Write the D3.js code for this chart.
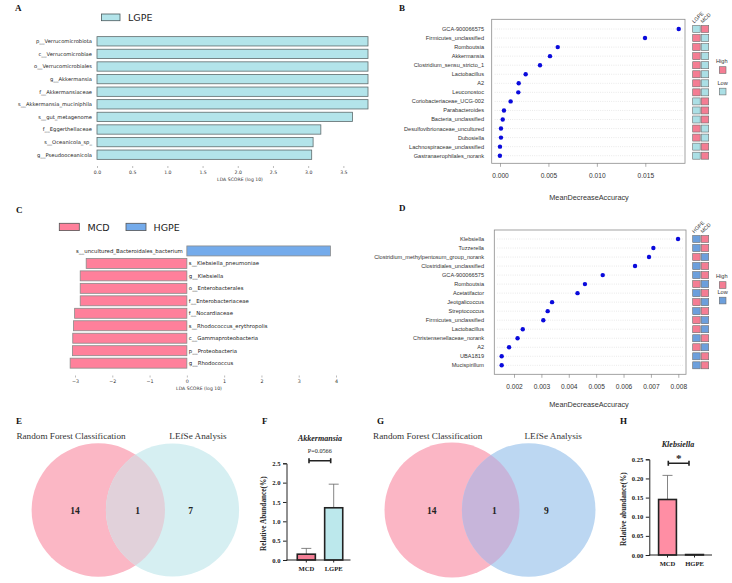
<!DOCTYPE html>
<html><head><meta charset="utf-8">
<script src="https://cdn.jsdelivr.net/npm/d3@7"></script>
<style>body{margin:0;background:#fff}svg{display:block}</style>
</head><body><svg id="c" width="732" height="583"></svg>
<script>
// ---------- DATA ----------
const aLabels = ["p__Verrucomicrobiota","c__Verrucomicrobiae","o__Verrucomicrobiales","g__Akkermansia","f__Akkermansiaceae","s__Akkermansia_muciniphila","s__gut_metagenome","f__Eggerthellaceae","s__Oceanicola_sp_","g__Pseudooceanicola"];
const aValues = [3.85,3.85,3.85,3.85,3.85,3.85,3.63,3.18,3.07,3.05];
const aTicks = [0,0.5,1,1.5,2,2.5,3,3.5];

const cLabels = ["s__uncultured_Bacteroidales_bacterium","s__Klebsiella_pneumoniae","g__Klebsiella","o__Enterobacterales","f__Enterobacteriaceae","f__Nocardiaceae","s__Rhodococcus_erythropolis","c__Gammaproteobacteria","p__Proteobacteria","g__Rhodococcus"];
const cValues = [3.85,-2.70,-2.86,-2.86,-2.86,-3.01,-3.04,-3.06,-3.07,-3.13];
const cTicks = [-3,-2,-1,0,1,2,3,4];

const bLabels = ["GCA-900066575","Firmicutes_unclassified","Romboutsia","Akkermansia","Clostridium_sensu_stricto_1","Lactobacillus","A2","Leuconostoc","Coriobacteriaceae_UCG-002","Parabacteroides","Bacteria_unclassified","Desulfovibrionaceae_uncultured","Dubosiella","Lachnospiraceae_unclassified","Gastranaerophilales_norank"];
const bValues = [0.01845,0.01497,0.00596,0.00516,0.00413,0.00265,0.00193,0.00189,0.00110,0.00041,0.00028,0.00010,0.00010,0.00000,-0.00001];
const bGroups = ["LGPE","MCD"];
const bHigh = ["MCD","LGPE","LGPE","LGPE","LGPE","LGPE","LGPE","LGPE","MCD","MCD","MCD","LGPE","LGPE","MCD","MCD"];
const bTicks = [0,0.005,0.010,0.015];

const dLabels = ["Klebsiella","Tuzzerella","Clostridium_methylpentosum_group_norank","Clostridiales_unclassified","GCA-900066575","Romboutsia","Acetatifactor","Jeotgalicoccus","Streptococcus","Firmicutes_unclassified","Lactobacillus","Christensenellaceae_norank","A2","UBA1819","Mucispirillum"];
const dValues = [0.00799,0.00709,0.00693,0.00642,0.00524,0.00459,0.00432,0.00339,0.00323,0.00307,0.00232,0.00213,0.00182,0.00155,0.00155];
const dGroups = ["HGPE","MCD"];
const dHigh = ["MCD","MCD","HGPE","MCD","MCD","HGPE","MCD","HGPE","MCD","HGPE","HGPE","MCD","HGPE","MCD","MCD"];
const dTicks = [0.002,0.003,0.004,0.005,0.006,0.007,0.008];

const vennSets = ["Random Forest Classification","LEfSe Analysis"];
const eCounts = [14,1,7];
const gCounts = [14,1,9];

const fGroups = ["MCD","LGPE"];
const fMeans = [0.15,1.35];
const fErr = [0.15,0.61];
const fTicks = [0,0.5,1.0,1.5,2.0,2.5];
const fP = "P=0.0566";

const hGroups = ["MCD","HGPE"];
const hMeans = [0.145,0.0012];
const hErr = [0.063,0];
const hTicks = [0,0.05,0.10,0.15,0.20,0.25];

// ---------- STYLE ----------
const SANS = "'Liberation Sans', Arial, sans-serif";
const DEJA = "'DejaVu Sans', sans-serif";
const SERIF = "'Liberation Serif', 'Times New Roman', serif";
const PINK = "#f47d93", CYAN = "#abdfe5", BLUE = "#6c9fdc";

const svg = d3.select("#c");
svg.append("rect").attr("width",732).attr("height",583).attr("fill","#fff");

function letter(t,x,y){
  svg.append("text").attr("x",x).attr("y",y).text(t)
    .attr("font-family",SERIF).attr("font-weight","bold").attr("font-size",9).attr("fill","#111");
}
letter("A",15,11); letter("B",399,11); letter("C",16,213); letter("D",399,211);
letter("E",16,424); letter("F",262,424); letter("G",377,424); letter("H",620,424);

// ---------- PANEL A ----------
{
  const g = svg.append("g");
  const x = d3.scaleLinear().domain([0,3.85]).range([97,368]);
  const y = d3.scaleBand().domain(aLabels).range([35,161]).paddingInner(0.26).paddingOuter(0.13);
  g.selectAll("rect.bar").data(aLabels).join("rect").attr("class","bar")
    .attr("x",x(0)).attr("y",d=>y(d)).attr("height",y.bandwidth())
    .attr("width",(d,i)=>x(aValues[i])-x(0))
    .attr("fill","#b3e4ea").attr("stroke","#5f6b6d").attr("stroke-width",0.8);
  g.selectAll("text.lab").data(aLabels).join("text").attr("class","lab")
    .attr("x",92).attr("y",d=>y(d)+y.bandwidth()/2).attr("dy","0.35em")
    .attr("text-anchor","end").attr("font-family",DEJA).attr("font-size",5.2).attr("fill","#222").text(d=>d);
  const ax = g.append("g").attr("transform","translate(0,166)")
    .call(d3.axisBottom(x).tickValues(aTicks).tickFormat(d3.format(".1f")).tickSize(2).tickPadding(2.5));
  ax.select(".domain").remove();
  ax.selectAll("line").attr("stroke","#777").attr("stroke-width",0.5);
  ax.selectAll("text").attr("font-family",DEJA).attr("font-size",4.6).attr("fill","#333");
  g.append("text").attr("x",240).attr("y",180.5).attr("text-anchor","middle")
    .attr("font-family",DEJA).attr("font-size",4.6).attr("fill","#333").text("LDA SCORE (log 10)");
  // legend
  g.append("rect").attr("x",101.5).attr("y",14).attr("width",18.5).attr("height",6.7)
    .attr("fill","#b3e4ea").attr("stroke","#4a5a5d").attr("stroke-width",0.8);
  g.append("text").attr("x",128).attr("y",21.2).attr("font-family",DEJA).attr("font-size",9.5).attr("fill","#222").text("LGPE");
}

// ---------- PANEL C ----------
{
  const g = svg.append("g");
  const x = d3.scaleLinear().domain([-3,4]).range([75,336]);
  const y = d3.scaleBand().domain(cLabels).range([244.7,369.4]).paddingInner(0.2).paddingOuter(0.1);
  g.selectAll("rect.bar").data(cLabels).join("rect").attr("class","bar")
    .attr("x",(d,i)=>x(Math.min(0,cValues[i]))).attr("y",d=>y(d)).attr("height",y.bandwidth())
    .attr("width",(d,i)=>Math.abs(x(cValues[i])-x(0)))
    .attr("fill",(d,i)=>cValues[i]>0?"#74abeb":"#ff809b").attr("stroke","#8a8a8a").attr("stroke-width",0.8);
  g.selectAll("text.lab").data(cLabels).join("text").attr("class","lab")
    .attr("x",(d,i)=>cValues[i]>0?x(0)-4:x(0)+2).attr("y",d=>y(d)+y.bandwidth()/2).attr("dy","0.35em")
    .attr("text-anchor",(d,i)=>cValues[i]>0?"end":"start")
    .attr("font-family",DEJA).attr("font-size",5.4).attr("fill","#222").text(d=>d);
  const ax = g.append("g").attr("transform","translate(0,375.5)")
    .call(d3.axisBottom(x).tickValues(cTicks).tickFormat(d3.format("d")).tickSize(2).tickPadding(2.5));
  ax.select(".domain").remove();
  ax.selectAll("line").attr("stroke","#777").attr("stroke-width",0.5);
  ax.selectAll("text").attr("font-family",DEJA).attr("font-size",4.8).attr("fill","#333");
  g.append("text").attr("x",199).attr("y",390).attr("text-anchor","middle")
    .attr("font-family",DEJA).attr("font-size",4.6).attr("fill","#333").text("LDA SCORE (log 10)");
  // legend
  const leg = [["MCD","#ff809b",59.3,87.5],["HGPE","#74abeb",126,153.5]];
  leg.forEach(l=>{
    g.append("rect").attr("x",l[2]).attr("y",223.3).attr("width",20).attr("height",7.3)
      .attr("fill",l[1]).attr("stroke","#555").attr("stroke-width",0.8);
    g.append("text").attr("x",l[3]).attr("y",230.8).attr("font-family",DEJA).attr("font-size",9.5).attr("fill","#222").text(l[0]);
  });
}

// ---------- DOT CHART (B / D) ----------
function dotPanel(opt){
  const g = svg.append("g");
  const x = d3.scaleLinear().domain(opt.dom).range(opt.rng);
  const y = d3.scalePoint().domain(opt.labels).range([opt.y0,opt.y1]);
  const bx0=opt.box[0], bx1=opt.box[1], by0=opt.box[2], by1=opt.box[3];
  // grid
  g.selectAll("line.grid").data(opt.labels).join("line").attr("class","grid")
    .attr("x1",bx0+3).attr("x2",bx1-2).attr("y1",d=>y(d)).attr("y2",d=>y(d))
    .attr("stroke","#c8c8c8").attr("stroke-width",0.5).attr("stroke-dasharray","0.8,1.4");
  g.append("rect").attr("x",bx0).attr("y",by0).attr("width",bx1-bx0).attr("height",by1-by0)
    .attr("fill","none").attr("stroke","#8c8c8c").attr("stroke-width",0.8);
  g.selectAll("circle").data(opt.labels).join("circle")
    .attr("cx",(d,i)=>x(opt.values[i])).attr("cy",d=>y(d)).attr("r",2.2).attr("fill","#0a0adc");
  g.selectAll("text.lab").data(opt.labels).join("text").attr("class","lab")
    .attr("x",484).attr("y",d=>y(d)).attr("dy","0.35em").attr("text-anchor","end")
    .attr("font-family",SANS).attr("font-size",5.6).attr("fill","#333").text(d=>d);
  const ax = g.append("g").attr("transform",`translate(0,${by1})`)
    .call(d3.axisBottom(x).tickValues(opt.ticks).tickFormat(d3.format(opt.fmt)).tickSize(3.5).tickPadding(7));
  ax.select(".domain").remove();
  ax.selectAll("line").attr("stroke","#777").attr("stroke-width",0.6);
  ax.selectAll("text").attr("font-family",SANS).attr("font-size",6.6).attr("fill","#333");
  g.append("text").attr("x",589).attr("y",opt.titleY).attr("text-anchor","middle")
    .attr("font-family",SANS).attr("font-size",7.3).attr("fill","#333").text("MeanDecreaseAccuracy");
  // heatmap
  const hx = d3.scaleBand().domain(opt.groups).range([692.7,708.7]).paddingInner(0.12).paddingOuter(0);
  opt.labels.forEach((lab,i)=>{
    opt.groups.forEach(gr=>{
      g.append("rect").attr("x",hx(gr)).attr("y",y(lab)-3.5).attr("width",hx.bandwidth()).attr("height",7)
        .attr("fill",opt.high[i]===gr?PINK:opt.low).attr("stroke","#6b6b6b").attr("stroke-width",0.6);
    });
  });
  opt.groups.forEach(gr=>{
    g.append("text").attr("transform",`translate(${hx(gr)+1.5},${y(opt.labels[0])-5.5}) rotate(-45)`)
      .attr("font-family",SANS).attr("font-size",5.2).attr("fill","#333").text(gr);
  });
  // legend
  const ly = opt.legY;
  g.append("text").attr("x",716).attr("y",ly).attr("font-family",SANS).attr("font-size",5.6).attr("fill","#333").text("High");
  g.append("rect").attr("x",719.3).attr("y",ly+3.7).attr("width",6.7).attr("height",6.7)
    .attr("fill",PINK).attr("stroke","#6b6b6b").attr("stroke-width",0.6);
  g.append("text").attr("x",717.5).attr("y",ly+(opt.lowGap)).attr("font-family",SANS).attr("font-size",5.6).attr("fill","#333").text("Low");
  g.append("rect").attr("x",719.3).attr("y",ly+opt.lowGap+3.2).attr("width",6.7).attr("height",6.7)
    .attr("fill",opt.low).attr("stroke","#6b6b6b").attr("stroke-width",0.6);
}
dotPanel({labels:bLabels,values:bValues,groups:bGroups,high:bHigh,ticks:bTicks,fmt:".3f",
  dom:[0,0.015],rng:[500,645.3],y0:29,y1:155.7,box:[491.7,685,19.3,163.3],titleY:199.5,low:CYAN,legY:63,lowGap:22});
dotPanel({labels:dLabels,values:dValues,groups:dGroups,high:dHigh,ticks:dTicks,fmt:".3f",
  dom:[0.002,0.008],rng:[514,678.3],y0:239,y1:365.3,box:[494.3,686,230,374.3],titleY:407,low:BLUE,legY:278,lowGap:16});

// ---------- VENN ----------
function venn(opt){
  const g = svg.append("g");
  const id = opt.id;
  g.append("clipPath").attr("id",id).append("circle").attr("cx",opt.c1[0]).attr("cy",opt.c1[1]).attr("r",opt.r1);
  g.append("circle").attr("cx",opt.c1[0]).attr("cy",opt.c1[1]).attr("r",opt.r1).attr("fill",opt.col[0]);
  g.append("circle").attr("cx",opt.c2[0]).attr("cy",opt.c2[1]).attr("r",opt.r2).attr("fill",opt.col[1]);
  g.append("circle").attr("cx",opt.c2[0]).attr("cy",opt.c2[1]).attr("r",opt.r2).attr("fill",opt.col[2]).attr("clip-path",`url(#${id})`);
  vennSets.forEach((s,i)=>{
    g.append("text").attr("x",opt.tx[i]).attr("y",438.5).attr("text-anchor","middle")
      .attr("font-family",SERIF).attr("font-size",9.2).attr("fill","#333").text(s);
  });
  opt.counts.forEach((c,i)=>{
    g.append("text").attr("x",opt.nx[i]).attr("y",513.5).attr("text-anchor","middle")
      .attr("font-family",SERIF).attr("font-weight","bold").attr("font-size",9.5).attr("fill","#222").text(c);
  });
}
venn({id:"clipE",c1:[98.3,510],r1:66.7,c2:[172.5,510],r2:66.6,col:["#fbb7c5","#d6eff2","#e1d1da"],
  tx:[71,198],nx:[75,137.7,190.7],counts:eCounts});
venn({id:"clipG",c1:[452,510],r1:67.5,c2:[528.7,510],r2:66.8,col:["#fbb6c5","#bcd7f2","#c7b5da"],
  tx:[427.7,553.2],nx:[431.7,494.3,546.3],counts:gCounts});

// ---------- BAR WITH ERROR (F / H) ----------
function errBar(opt){
  const g = svg.append("g");
  const y = d3.scaleLinear().domain([0,opt.ticks[opt.ticks.length-1]]).range([opt.yb,opt.yt]);
  const x = d3.scaleBand().domain(opt.groups).range(opt.xr).paddingInner(0.34).paddingOuter(0.17);
  // error bars
  opt.groups.forEach((gr,i)=>{
    if(opt.err[i]>0){
      const cx = x(gr)+x.bandwidth()/2;
      g.append("line").attr("x1",cx).attr("x2",cx).attr("y1",y(opt.means[i])).attr("y2",y(opt.means[i]+opt.err[i]))
        .attr("stroke","#666").attr("stroke-width",0.8);
      g.append("line").attr("x1",cx-5).attr("x2",cx+5).attr("y1",y(opt.means[i]+opt.err[i])).attr("y2",y(opt.means[i]+opt.err[i]))
        .attr("stroke","#666").attr("stroke-width",0.8);
    }
  });
  g.selectAll("rect.bar").data(opt.groups).join("rect").attr("class","bar")
    .attr("x",d=>x(d)).attr("width",x.bandwidth())
    .attr("y",(d,i)=>y(opt.means[i])).attr("height",(d,i)=>y(0)-y(opt.means[i]))
    .attr("fill",(d,i)=>opt.fill[i]).attr("stroke","#222").attr("stroke-width",1.6);
  const ay = g.append("g").attr("transform",`translate(${opt.ax},0)`)
    .call(d3.axisLeft(y).tickValues(opt.ticks).tickFormat(d3.format(opt.fmt)).tickSize(3.5).tickPadding(2.5));
  ay.select(".domain").attr("stroke","#222").attr("stroke-width",1);
  ay.selectAll("line").attr("stroke","#222").attr("stroke-width",1);
  ay.selectAll("text").attr("font-family",SERIF).attr("font-weight","bold").attr("font-size",6.6).attr("fill","#222");
  g.append("line").attr("x1",opt.ax).attr("x2",opt.xend).attr("y1",y(0)).attr("y2",y(0)).attr("stroke","#222").attr("stroke-width",1);
  opt.groups.forEach(gr=>{
    g.append("line").attr("x1",x(gr)+x.bandwidth()/2).attr("x2",x(gr)+x.bandwidth()/2).attr("y1",y(0)).attr("y2",y(0)+2.5)
      .attr("stroke","#222").attr("stroke-width",1);
    g.append("text").attr("x",x(gr)+x.bandwidth()/2).attr("y",y(0)+11).attr("text-anchor","middle")
      .attr("font-family",SERIF).attr("font-weight","bold").attr("font-size",6.6).attr("fill","#222").text(gr);
  });
  g.append("text").attr("transform",`translate(${opt.ylx},${(opt.yb+opt.yt)/2+2}) rotate(-90)`).attr("text-anchor","middle")
    .attr("font-family",SERIF).attr("font-weight","bold").attr("font-size",7.3).attr("fill","#222").text(opt.ylab);
  g.append("text").attr("x",opt.title[1]).attr("y",opt.title[2]).attr("text-anchor","middle")
    .attr("font-family",SERIF).attr("font-weight","bold").attr("font-style","italic").attr("font-size",8).attr("fill","#222").text(opt.title[0]);
  // bracket
  const [bx1,bx2,byy] = opt.br;
  g.append("path").attr("d",`M${bx1},${byy-2.5}V${byy+2.5}M${bx1},${byy}H${bx2}M${bx2},${byy-2.5}V${byy+2.5}`)
    .attr("fill","none").attr("stroke","#222").attr("stroke-width",1.6);
  g.append("text").attr("x",(bx1+bx2)/2).attr("y",opt.sig[1]).attr("text-anchor","middle")
    .attr("font-family",SERIF).attr("font-weight",opt.sig[2]).attr("font-size",opt.sig[3]).attr("fill","#222").text(opt.sig[0]);
}
errBar({groups:fGroups,means:fMeans,err:fErr,ticks:fTicks,fmt:".1f",yb:560,yt:463.3,xr:[292.6,347.4],
  ax:286.5,xend:350.5,fill:["#f47f96","#bce8ec"],ylx:266,ylab:"Relative Abundance(%)",
  title:["Akkermansia",320,440.5],br:[309,330.7,460.7],sig:[fP,453.3,"normal",6.2]});
errBar({groups:hGroups,means:hMeans,err:hErr,ticks:hTicks,fmt:".2f",yb:555,yt:459.3,xr:[654,708],
  ax:649.3,xend:712,fill:["#ff8ea4","#bcd7f2"],ylx:626,ylab:"Relative abundance(%)",
  title:["Klebsiella",678,446.5],br:[668.3,689,463.3],sig:["*",462,"bold",11]});
</script></body></html>
